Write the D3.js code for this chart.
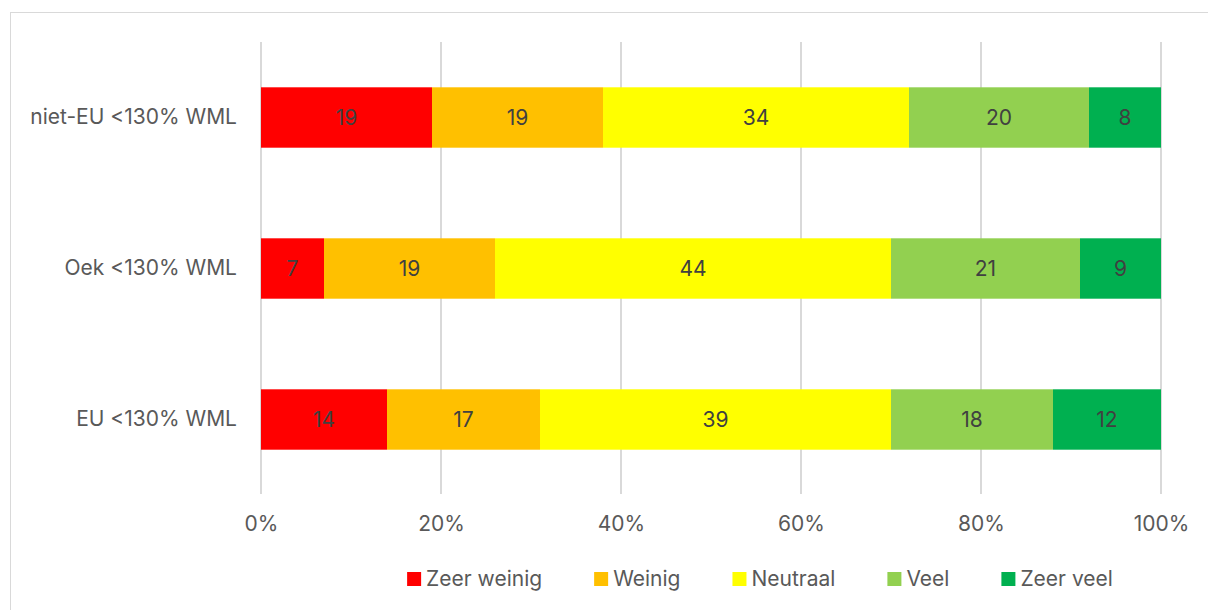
<!DOCTYPE html>
<html>
<head>
<meta charset="utf-8">
<script src="https://cdn.jsdelivr.net/npm/d3@7"></script>
<style>
  html, body { margin: 0; padding: 0; background: #fff; }
  svg { display: block; font-family: "Inter", "Noto Sans", sans-serif; }
</style>
</head>
<body>
<svg id="chart" width="1208" height="610"></svg>
<script>
// Income groups, top to bottom
const groups = ["niet-EU <130% WML", "Oek <130% WML", "EU <130% WML"];
// Response categories, left to right
const categories = ["Zeer weinig", "Weinig", "Neutraal", "Veel", "Zeer veel"];
const colors = ["#FF0000", "#FFC000", "#FFFF00", "#92D050", "#00B050"];
// Share (%) per category, one array per group
const nietEU = [19, 19, 34, 20, 8];
const oek = [7, 19, 44, 21, 9];
const eu = [14, 17, 39, 18, 12];
const tickValues = [0, 0.2, 0.4, 0.6, 0.8, 1.0];

const rows = [nietEU, oek, eu];

const svg = d3.select("#chart");
const margin = { left: 261, right: 47, top: 42, bottom: 115 };
const W = 1208, H = 610;
const textGrey = "#595959";
const fs = 21;

// chart frame
svg.append("rect")
  .attr("x", 10.5).attr("y", 12.5)
  .attr("width", 1210).attr("height", 610)
  .attr("fill", "none").attr("stroke", "#d9d9d9").attr("stroke-width", 1);

const x = d3.scaleLinear().domain([0, 1]).range([margin.left, W - margin.right]);
const y = d3.scaleBand().domain(groups).range([margin.top, H - margin.bottom]).paddingInner(0.6).paddingOuter(0.3);

// vertical gridlines
svg.append("g").selectAll("line").data(tickValues).join("line")
  .attr("x1", d => Math.round(x(d))).attr("x2", d => Math.round(x(d)))
  .attr("y1", margin.top).attr("y2", H - margin.bottom - 1)
  .attr("stroke", "#d9d9d9").attr("stroke-width", 2);

// x axis tick labels
const xAxis = d3.axisBottom(x).tickValues(tickValues).tickFormat(d3.format(".0%")).tickSize(0).tickPadding(0);
const gx = svg.append("g").attr("transform", `translate(0, ${524})`).call(xAxis);
gx.select(".domain").remove();
gx.selectAll("text").attr("fill", textGrey).attr("font-size", fs).attr("font-family", "Inter, sans-serif").attr("dy", "0.35em");

// y axis category labels
const yAxis = d3.axisLeft(y).tickSize(0).tickPadding(24);
const gy = svg.append("g").attr("transform", `translate(${margin.left}, 0)`).call(yAxis);
gy.select(".domain").remove();
gy.selectAll("text").attr("fill", textGrey).attr("font-size", fs).attr("font-family", "Inter, sans-serif");

// stacked segments
rows.forEach((vals, i) => {
  const g = groups[i];
  let cum = 0;
  const segs = vals.map((v, j) => {
    const s = { start: cum / 100, end: (cum + v) / 100, v, c: colors[j] };
    cum += v;
    return s;
  });
  const row = svg.append("g");
  row.selectAll("rect").data(segs).join("rect")
    .attr("x", d => x(d.start)).attr("width", d => x(d.end) - x(d.start))
    .attr("y", y(g)).attr("height", y.bandwidth())
    .attr("fill", d => d.c);
  row.selectAll("text").data(segs).join("text")
    .attr("x", d => (x(d.start) + x(d.end)) / 2)
    .attr("y", y(g) + y.bandwidth() / 2)
    .attr("dy", "0.35em")
    .attr("text-anchor", "middle")
    .attr("fill", "#404040").attr("font-size", fs)
    .text(d => d.v);
});

// legend: items laid out in sequence, centred as a group
const legend = svg.append("g");
const sq = 14, gapText = 5, gapItem = 52;
let cx = 0;
categories.forEach((c, i) => {
  const lg = legend.append("g").attr("transform", `translate(${cx}, 0)`);
  lg.append("rect").attr("y", -sq / 2).attr("width", sq).attr("height", sq).attr("fill", colors[i]);
  const t = lg.append("text").attr("x", sq + gapText).attr("dy", "0.35em")
    .attr("fill", textGrey).attr("font-size", fs).text(c);
  cx += sq + gapText + t.node().getComputedTextLength() + gapItem;
});
const legendWidth = cx - gapItem;
legend.attr("transform", `translate(${760 - legendWidth / 2}, 579)`);
</script>
</body>
</html>
